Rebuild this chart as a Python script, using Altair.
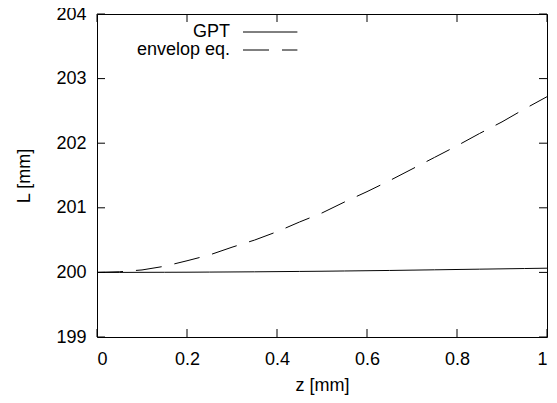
import altair as alt
import pandas as pd

# data
z_mm = [0.0, 0.05, 0.1, 0.15, 0.2, 0.25, 0.3, 0.35, 0.4, 0.45, 0.5,
        0.55, 0.6, 0.65, 0.7, 0.75, 0.8, 0.85, 0.9, 0.95, 1.0]
L_gpt = [200.0, 200.0, 200.001, 200.002, 200.003, 200.005, 200.007, 200.009,
         200.012, 200.015, 200.018, 200.022, 200.026, 200.030, 200.035,
         200.040, 200.045, 200.050, 200.055, 200.060, 200.065]
L_env = [200.0, 200.01, 200.038, 200.095, 200.18, 200.27, 200.39, 200.50,
         200.63, 200.78, 200.92, 201.09, 201.25, 201.42, 201.60, 201.78,
         201.96, 202.15, 202.33, 202.53, 202.72]
series_names = ["GPT", "envelop eq."]
x_ticks = [0, 0.2, 0.4, 0.6, 0.8, 1.0]
y_ticks = [199, 200, 201, 202, 203, 204]

rows = []
for name, vals in zip(series_names, [L_gpt, L_env]):
    for zz, v in zip(z_mm, vals):
        rows.append({"z": zz, "L": v, "series": name})
df = pd.DataFrame(rows)
xt_df = pd.DataFrame({"z": x_ticks})
yt_df = pd.DataFrame({"L": y_ticks})

FONT = "Liberation Sans"
FS = 18
W, H = 450, 323
TICK = 8

xscale = alt.Scale(domain=[0, 1], nice=False)
yscale = alt.Scale(domain=[199, 204], nice=False, zero=False)

common_axis = dict(domain=False, grid=False, ticks=False,
                   labelFont=FONT, labelFontSize=FS, labelColor="black",
                   titleFont=FONT, titleFontSize=FS, titleColor="black",
                   titleFontWeight="normal")
x_axis = alt.Axis(orient="bottom", values=x_ticks, format=".1~f",
                  title="z [mm]", labelPadding=13, titlePadding=8,
                  **common_axis)
y_axis = alt.Axis(orient="left", values=y_ticks, format="d",
                  title="L [mm]", labelPadding=11, titlePadding=22,
                  **common_axis)

lines = alt.Chart(df).mark_line(color="black", strokeWidth=1).encode(
    x=alt.X("z:Q", scale=xscale, axis=x_axis),
    y=alt.Y("L:Q", scale=yscale, axis=y_axis),
    strokeDash=alt.StrokeDash(
        "series:N",
        scale=alt.Scale(domain=series_names, range=[[1, 0], [26, 13]]),
        legend=alt.Legend(title=None, orient="none", legendX=164.2,
                          legendY=9, symbolType="M-3.2,0H3.2",
                          symbolSize=289, symbolFillColor="transparent",
                          symbolStrokeColor="black", symbolStrokeWidth=1,
                          labelAlign="right",
                          labelOffset=alt.ExprRef("-49.2"),
                          rowPadding=0,
                          labelFont=FONT, labelFontSize=FS,
                          labelColor="black", padding=0),
    ),
)

# inward tick marks on all four sides (gnuplot style)
def yticks_at(x0, x1):
    return alt.Chart(yt_df).mark_rule(color="black", strokeWidth=1).encode(
        y=alt.Y("L:Q", scale=yscale, axis=y_axis),
        x=alt.value(x0), x2=alt.value(x1))

def xticks_at(y0, y1):
    return alt.Chart(xt_df).mark_rule(color="black", strokeWidth=1).encode(
        x=alt.X("z:Q", scale=xscale, axis=x_axis),
        y=alt.value(y0), y2=alt.value(y1))

chart = alt.layer(
    lines,
    yticks_at(0, TICK), yticks_at(W - TICK, W),
    xticks_at(0, TICK), xticks_at(H - TICK, H),
).properties(
    width=W, height=H,
    background="white",
    autosize=alt.AutoSizeParams(type="none"),
    padding={"left": 89, "top": 6, "right": 2, "bottom": 66},
).configure_view(
    stroke="black", strokeWidth=1
)

chart.save("out.html", embed_options={"renderer": "svg", "actions": False})
